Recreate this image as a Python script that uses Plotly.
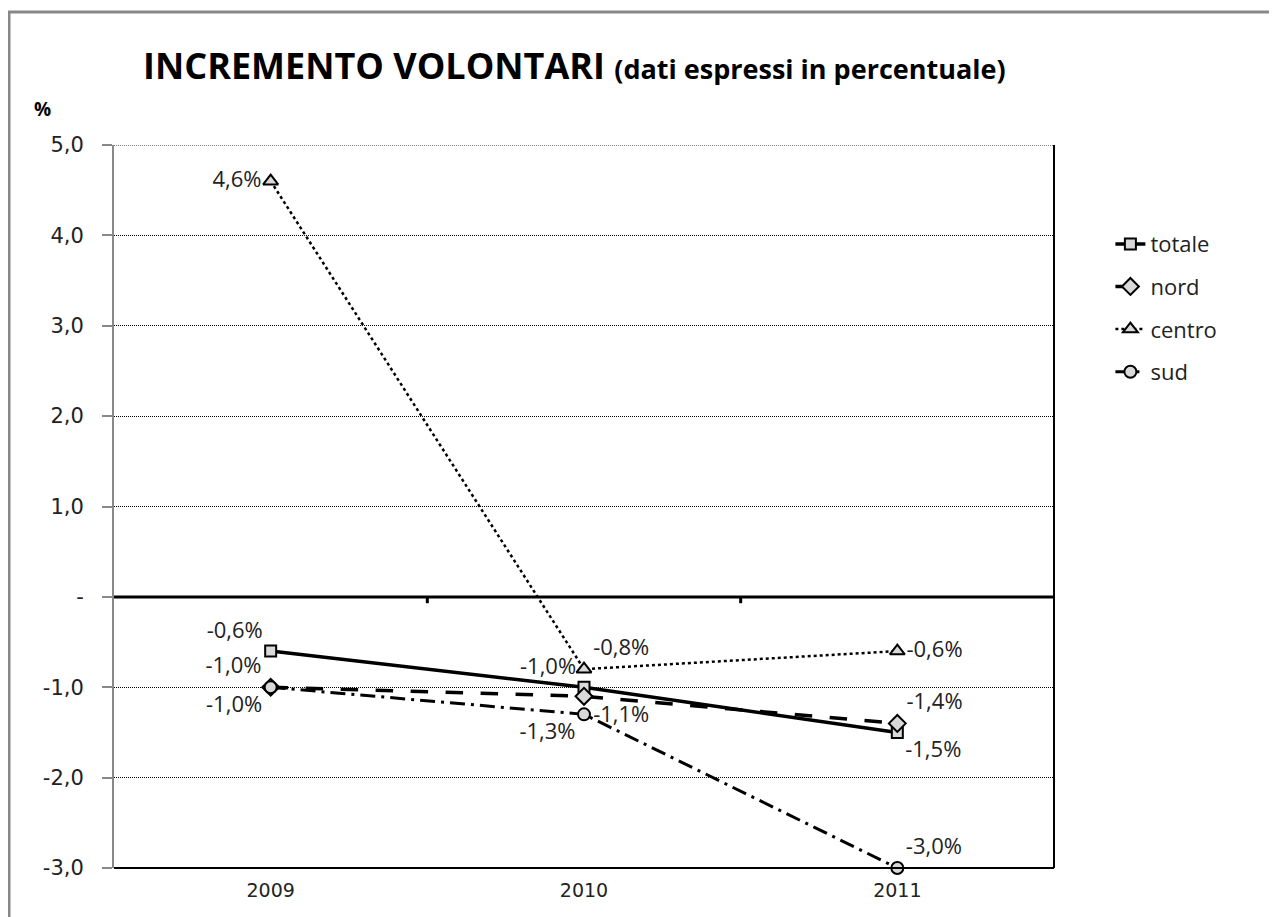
import plotly.graph_objects as go

years = ["2009", "2010", "2011"]
totale = [-0.6, -1.0, -1.5]
nord = [-1.0, -1.1, -1.4]
centro = [4.6, -0.8, -0.6]
sud = [-1.0, -1.3, -3.0]
y_ticks = [5, 4, 3, 2, 1, 0, -1, -2, -3]
y_tick_labels = ["5,0", "4,0", "3,0", "2,0", "1,0", "-", "-1,0", "-2,0", "-3,0"]


def fmt(v):
    return ("%.1f%%" % v).replace(".", ",")


series = [
    dict(name="totale", y=totale, dash="solid", width=3.5, symbol="square", size=11,
         pos=["top left", "top left", "bottom right"]),
    dict(name="nord", y=nord, dash="longdash", width=3.5, symbol="diamond", size=13,
         pos=["top left", "bottom right", "top right"]),
    dict(name="centro", y=centro, dash="dot", width=2.5, symbol="triangle-up", size=13,
         pos=["middle left", "top right", "middle right"]),
    dict(name="sud", y=sud, dash="longdashdot", width=3, symbol="circle", size=12,
         pos=["bottom left", "bottom left", "top right"]),
]

fig = go.Figure()
for i, s in enumerate(series):
    fig.add_trace(go.Scatter(
        x=years, y=s["y"], name=s["name"], legendgroup=s["name"],
        mode="lines+markers+text",
        line=dict(color="black", width=s["width"], dash=s["dash"]),
        marker=dict(symbol=s["symbol"], size=s["size"], color="#d9d9d9",
                    line=dict(color="black", width=2)),
        text=[fmt(v) for v in s["y"]],
        textposition=s["pos"],
        textfont=dict(family="Open Sans, sans-serif", size=22, color="#222"),
        cliponaxis=False,
    ))

shapes = [
    # top dotted line
    dict(type="line", xref="paper", yref="y", x0=0, x1=1, y0=5, y1=5,
         line=dict(color="black", width=1, dash="1px,1px")),
    # zero line
    dict(type="line", xref="paper", yref="y", x0=0, x1=1, y0=0, y1=0,
         line=dict(color="black", width=3), layer="above"),
    # bottom and right borders
    dict(type="line", xref="paper", yref="paper", x0=0, x1=1, y0=0, y1=0,
         line=dict(color="black", width=2)),
    dict(type="line", xref="paper", yref="paper", x0=1, x1=1, y0=0, y1=1,
         line=dict(color="black", width=2)),
    # outer frame
    dict(type="rect", xref="paper", yref="paper", x0=-0.1117, x1=1.3, y0=-0.2, y1=1.184,
         line=dict(color="#888888", width=3)),
]
for xb in [0.5, 1.5]:
    shapes.append(dict(type="line", xref="x", yref="y", x0=xb, x1=xb, y0=0, y1=-0.07,
                       line=dict(color="black", width=3)))

fig.update_layout(
    width=1269, height=909,
    margin=dict(l=106, r=223, t=137, b=49),
    paper_bgcolor="white", plot_bgcolor="white",
    showlegend=True,
    legend=dict(x=1.06, y=0.892, xanchor="left", yanchor="top",
                font=dict(family="Open Sans, sans-serif", size=22, color="#222"),
                tracegroupgap=11, bgcolor="rgba(0,0,0,0)"),
    xaxis=dict(type="category", range=[-0.5, 2.5], showgrid=False, showline=False,
               ticks="", zeroline=False, ticklabelstandoff=9,
               tickfont=dict(family="DejaVu Sans, sans-serif", size=19, color="#222")),
    yaxis=dict(range=[-3, 5], tickvals=y_ticks, ticktext=y_tick_labels,
               showgrid=True, gridcolor="black", griddash="1px,1px", gridwidth=1,
               zeroline=False, showline=True, linecolor="#888888", linewidth=2,
               ticks="outside", ticklen=10, tickcolor="#888888", tickwidth=2,
               ticklabelstandoff=14,
               tickfont=dict(family="DejaVu Sans, sans-serif", size=21, color="#222")),
    shapes=shapes,
    annotations=[
        dict(xref="paper", yref="paper", x=0.49, y=1.11, xanchor="center", yanchor="middle",
             showarrow=False,
             text="<b>INCREMENTO VOLONTARI</b> <b><span style='font-size:27px'>(dati espressi in percentuale)</span></b>",
             font=dict(family="Open Sans, sans-serif", size=36, color="black")),
        dict(xref="paper", yref="paper", x=-0.076, y=1.05, xanchor="center", yanchor="middle",
             showarrow=False, text="<b>%</b>",
             font=dict(family="Open Sans, sans-serif", size=19, color="black")),
    ],
)

fig.write_html("out.html")
